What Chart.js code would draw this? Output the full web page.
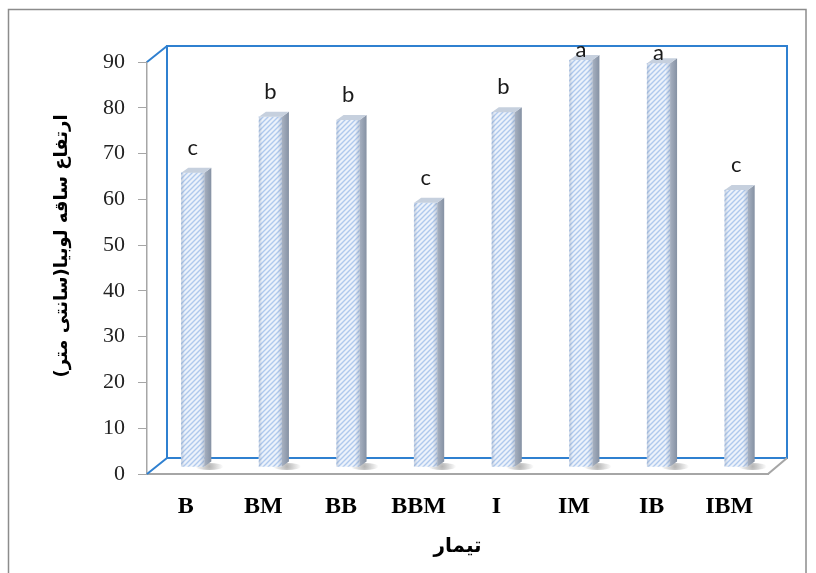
<!DOCTYPE html>
<html>
<head>
<meta charset="utf-8">
<script src="https://cdn.jsdelivr.net/npm/chart.js@4.4.0/dist/chart.umd.min.js"></script>
<style>
html, body { margin: 0; padding: 0; background: #fff; }
#wrap { width: 816px; height: 573px; }
</style>
</head>
<body>
<div id="wrap"><canvas id="stemChart" width="816" height="573"></canvas></div>
<script>
const treatments = ['B', 'BM', 'BB', 'BBM', 'I', 'IM', 'IB', 'IBM'];
const stemHeight = [64.3, 76.5, 75.8, 57.7, 77.5, 88.9, 88.2, 60.5];
const groupLetters = ['c', 'b', 'b', 'c', 'b', 'a', 'a', 'c'];
const yTitle = '\u200Fارتفاع ساقه لوبیا(سانتی متر)\u200F';
const xTitle = 'تیمار';

// depth of the fake 3D box and of the bars
const DX = 20, DY = -16;
const BX = 7, BY = -7;
const SIDE = 7, CAP = 5;

function hatchPattern() {
    const c = document.createElement('canvas');
    c.width = 5; c.height = 5;
    const g = c.getContext('2d');
    g.fillStyle = '#ecf2fb';
    g.fillRect(0, 0, 5, 5);
    g.strokeStyle = '#afc9ed';
    g.lineWidth = 1.4;
    g.beginPath();
    g.moveTo(0, 5); g.lineTo(5, 0);
    g.moveTo(-2.5, 2.5); g.lineTo(2.5, -2.5);
    g.moveTo(2.5, 7.5); g.lineTo(7.5, 2.5);
    g.stroke();
    return g.createPattern(c, 'repeat');
}

const frame3d = {
    id: 'frame3d',
    beforeDraw(chart) {
        const ctx = chart.ctx;
        ctx.save();
        ctx.strokeStyle = '#8c8c8c';
        ctx.lineWidth = 1.5;
        ctx.strokeRect(8.5, 9.5, 797.5, 600);
        ctx.restore();
    },
    beforeDatasetsDraw(chart) {
        const ctx = chart.ctx;
        const { left, right, top, bottom } = chart.chartArea;
        ctx.save();
        // back wall
        ctx.strokeStyle = '#2f80d0';
        ctx.lineWidth = 2;
        ctx.strokeRect(left + DX, top + DY, right - left - 1, bottom - top);
        ctx.beginPath();
        ctx.moveTo(left, top); ctx.lineTo(left + DX, top + DY);
        ctx.moveTo(left, bottom); ctx.lineTo(left + DX, bottom + DY);
        ctx.stroke();
        ctx.strokeStyle = '#a6a6a6';
        ctx.beginPath();
        ctx.moveTo(right, bottom); ctx.lineTo(right + DX - 1, bottom + DY);
        ctx.stroke();

        // soft shadows on the floor
        const meta = chart.getDatasetMeta(0);
        meta.data.forEach(bar => {
            const cx = bar.x + BX + bar.width / 2 + 5;
            const cy = bar.base + BY;
            const grd = ctx.createRadialGradient(cx, cy, 0, cx, cy, 14);
            grd.addColorStop(0, 'rgba(90,90,90,0.45)');
            grd.addColorStop(1, 'rgba(90,90,90,0)');
            ctx.fillStyle = grd;
            ctx.beginPath();
            ctx.ellipse(cx, cy, 14, 3.5, 0, 0, Math.PI * 2);
            ctx.fill();
        });

        ctx.translate(BX, BY);
    },
    afterDatasetsDraw(chart) {
        const ctx = chart.ctx;
        const meta = chart.getDatasetMeta(0);
        meta.data.forEach((bar, i) => {
            const xl = bar.x - bar.width / 2;
            const xr = bar.x + bar.width / 2;
            const top = bar.y, base = bar.base;

            // shading over the front face
            const fg = ctx.createLinearGradient(xl, 0, xr, 0);
            fg.addColorStop(0, 'rgba(120,140,170,0.35)');
            fg.addColorStop(0.15, 'rgba(120,140,170,0)');
            fg.addColorStop(0.8, 'rgba(120,140,170,0)');
            fg.addColorStop(1, 'rgba(110,125,150,0.35)');
            ctx.fillStyle = fg;
            ctx.fillRect(xl, top, xr - xl, base - top);

            // side face
            const sg = ctx.createLinearGradient(xr, 0, xr + SIDE, 0);
            sg.addColorStop(0, '#a7b1c1');
            sg.addColorStop(1, '#8591a3');
            ctx.fillStyle = sg;
            ctx.beginPath();
            ctx.moveTo(xr, top);
            ctx.lineTo(xr + SIDE, top - CAP);
            ctx.lineTo(xr + SIDE, base - CAP);
            ctx.lineTo(xr, base);
            ctx.closePath();
            ctx.fill();

            // cap
            ctx.fillStyle = '#c6d0de';
            ctx.beginPath();
            ctx.moveTo(xl, top);
            ctx.lineTo(xr, top);
            ctx.lineTo(xr + SIDE, top - CAP);
            ctx.lineTo(xl + SIDE, top - CAP);
            ctx.closePath();
            ctx.fill();

            // significance letter (kept inside the back wall)
            let ly = top - 25;
            if (ly + BY < 48) ly = top - 10;
            ctx.fillStyle = '#1a1a1a';
            ctx.font = '22px Lato';
            ctx.textAlign = 'center';
            ctx.textBaseline = 'middle';
            ctx.fillText(groupLetters[i], bar.x, ly);
        });
        ctx.restore();
    },
    afterDraw(chart) {
        const ctx = chart.ctx;
        ctx.save();
        ctx.translate(62, 246);
        ctx.rotate(-Math.PI / 2);
        ctx.fillStyle = '#000';
        ctx.font = 'bold 18px "DejaVu Sans"';
        ctx.textAlign = 'center';
        ctx.textBaseline = 'middle';
        ctx.fillText(yTitle, 0, 0);
        ctx.restore();
    }
};

new Chart(document.getElementById('stemChart'), {
    type: 'bar',

    plugins: [frame3d],

    data: {
        labels: treatments,
        datasets: [{
            data: stemHeight,
            backgroundColor: hatchPattern(),
            borderWidth: 0,
            barThickness: 23
        }]
    },

    options: {
        responsive: false,
        animation: false,
        layout: {
            padding: { left: 0, top: 62, right: 48, bottom: 0 }
        },
        plugins: {
            legend: { display: false },
            tooltip: { enabled: false }
        },
        scales: {
            x: {
                afterFit(scale) { scale.height = 99; },
                grid: { display: false, drawTicks: false },
                border: { display: true, color: '#a6a6a6', width: 2 },
                ticks: {
                    padding: 18,
                    color: '#000',
                    font: { family: 'Liberation Serif', size: 24, weight: 'bold' }
                },
                title: {
                    display: true,
                    text: xTitle,
                    color: '#000',
                    padding: { top: 0, bottom: 14 },
                    font: { family: 'DejaVu Sans', size: 20, weight: 'bold' }
                }
            },
            y: {
                min: 0,
                max: 90,
                afterFit(scale) { scale.width = 147; },
                grid: { drawOnChartArea: false, tickLength: 9, color: '#a6a6a6' },
                border: { display: true, color: '#a6a6a6', width: 1.5 },
                ticks: {
                    stepSize: 10,
                    padding: 13,
                    color: '#222',
                    font: { family: 'Liberation Serif', size: 22 }
                }
            }
        }
    }
});
</script>
</body>
</html>
